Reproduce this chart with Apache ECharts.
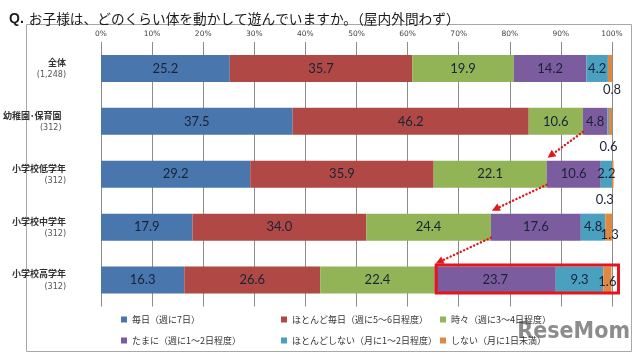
<!DOCTYPE html>
<html><head><meta charset="utf-8">
<script src="https://cdn.jsdelivr.net/npm/echarts/dist/echarts.min.js"></script>
<style>html,body{margin:0;padding:0;background:#fff}#c{width:640px;height:357px}</style>
</head><body><div id="c"></div>
<script>
// ---- data ----
const categories = ['全体', '幼稚園･保育園', '小学校低学年', '小学校中学年', '小学校高学年'];
const sampleSizes = ['(1,248)', '(312)', '(312)', '(312)', '(312)'];
const seriesNames = ['毎日（週に7日）', 'ほとんど毎日（週に5～6日程度）', '時々（週に3～4日程度）',
  'たまに（週に1～2日程度）', 'ほとんどしない（月に1～2日程度）', 'しない（月に1日未満）'];
const everyday       = [25.2, 37.5, 29.2, 17.9, 16.3];
const almostEveryday = [35.7, 46.2, 35.9, 34.0, 26.6];
const sometimes      = [19.9, 10.6, 22.1, 24.4, 22.4];
const occasionally   = [14.2, 4.8, 10.6, 17.6, 23.7];
const rarely         = [4.2, 0.3, 2.2, 4.8, 9.3];
const never          = [0.8, 0.6, 0.3, 1.3, 1.6];
const xTicks = [0, 10, 20, 30, 40, 50, 60, 70, 80, 90, 100];

// ---- styling ----
const colors = ['#4a76ae', '#b04945', '#93b456', '#7b5c9e', '#4aa1bf', '#e0883f'];
const allSeries = [everyday, almostEveryday, sometimes, occasionally, rarely, never];
const labelColor = '#1a2238';
const labelTweaks = {
  '4-1': { show: false },
  '5-0': { offset: [2, 21] },
  '5-1': { offset: [-2, 25] },
  '5-2': { offset: [-8, 26] },
  '5-3': { offset: [1, 8] },
  '5-4': { offset: [0, 2] }
};

const barSeries = allSeries.map((vals, si) => ({
  name: seriesNames[si],
  type: 'bar',
  stack: 'total',
  barWidth: 27,
  clip: false,
  itemStyle: { color: colors[si] },
  label: {
    show: true, position: 'inside', color: labelColor,
    fontFamily: 'Lato', fontSize: 13,
    formatter: p => p.value.toFixed(1)
  },
  data: vals.map((v, ri) => {
    const t = labelTweaks[si + '-' + ri];
    return t ? { value: v, label: t } : v;
  })
}));

const cum3 = categories.map((_, i) => everyday[i] + almostEveryday[i] + sometimes[i]);
const arrowData = [1, 2, 3].map(i => [cum3[i], i, cum3[i + 1], i + 1]);
const boxData = [[cum3[4], 4, 100, 4]];

const arrowSeries = {
  type: 'custom', name: 'arrows', z: 10, silent: true,
  encode: { x: [0, 2], y: [1, 3] },
  data: arrowData,
  renderItem(params, api) {
    const a = api.coord([api.value(0), api.value(1)]);
    const b = api.coord([api.value(2), api.value(3)]);
    const half = 13.5;
    const x1 = a[0], y1 = a[1] + half - 3;
    const x2 = b[0] + 1, y2 = b[1] - half - 3;
    const ang = Math.atan2(y2 - y1, x2 - x1);
    const L = 8, W = 4;
    const bx = x2 - L * Math.cos(ang), by = y2 - L * Math.sin(ang);
    const px = -Math.sin(ang) * W, py = Math.cos(ang) * W;
    return {
      type: 'group',
      children: [
        { type: 'line', shape: { x1, y1, x2: bx, y2: by },
          style: { stroke: '#e2161c', lineWidth: 2.4, lineDash: [0.1, 3.6], lineCap: 'round' } },
        { type: 'polygon', shape: { points: [[x2, y2], [bx + px, by + py], [bx - px, by - py]] },
          style: { fill: '#e2161c' } }
      ]
    };
  }
};

const boxSeries = {
  type: 'custom', name: 'box', z: 11, silent: true,
  encode: { x: [0, 2], y: [1, 3] },
  data: boxData,
  renderItem(params, api) {
    const a = api.coord([api.value(0), api.value(1)]);
    const b = api.coord([api.value(2), api.value(3)]);
    const half = 13.5;
    return {
      type: 'rect',
      shape: { x: a[0] + 1.5, y: a[1] - half - 1.5, width: b[0] - a[0] + 5, height: 2 * half + 1 },
      style: { fill: 'none', stroke: '#e2161c', lineWidth: 3 }
    };
  }
};

const legendPos = [[121, 315], [281, 315], [440, 315], [121, 336], [281, 336], [440, 336]];
const legends = seriesNames.map((n, i) => ({
  data: [n], left: legendPos[i][0], top: legendPos[i][1], padding: 0,
  icon: 'rect', itemWidth: 6, itemHeight: 6, selectedMode: false,
  textStyle: { fontSize: 9, color: '#333', fontFamily: 'Noto Sans CJK JP' }
}));

// category labels: centred two-line blocks whose right edge sits at a common x
const labelAnchorMargin = 35;      // block centre = gridLeft - margin
const gridLeft = 99, blockRight = 91;
const nameFont = 'bold 9px "Noto Sans CJK JP"';
const sizeFont = '8px "DejaVu Sans"';
const mctx = document.createElement('canvas').getContext('2d');
function textW(font, s) { mctx.font = font; return mctx.measureText(s).width; }
const categoryItems = categories.map((c, i) => {
  const w = Math.max(textW(nameFont, c), textW(sizeFont, sampleSizes[i]));
  const shift = (blockRight - w / 2) - (gridLeft - labelAnchorMargin);
  const pad = shift >= 0 ? [0, 0, 0, 2 * shift] : [0, -2 * shift, 0, 0];
  return { value: c, textStyle: { padding: pad } };
});

const chart = echarts.init(document.getElementById('c'), null, { renderer: 'canvas' });
chart.setOption({
  animation: false,
  backgroundColor: '#fff',
  title: {
    left: 4, top: 5,
    text: '{q|Q.} {t|お子様は、どのくらい体を動かして遊んでいますか。（屋内外問わず）}',
    textStyle: {
      fontWeight: 'normal',
      rich: {
        q: { fontSize: 14, fontWeight: 'bold', color: '#1a1a1a', fontFamily: 'Liberation Sans' },
        t: { fontSize: 13.7, fontWeight: 'normal', color: '#1a1a1a', fontFamily: 'Noto Sans CJK JP' }
      }
    }
  },
  legend: legends,
  grid: { left: gridLeft, right: 28, top: 42, bottom: 50.5, containLabel: false },
  xAxis: {
    type: 'value', position: 'top', min: xTicks[0], max: xTicks[xTicks.length - 1], interval: 10,
    axisLine: { show: false }, axisTick: { show: false },
    splitLine: { show: true, lineStyle: { color: '#8c8c8c', width: 1 } },
    axisLabel: { formatter: '{value}%', fontSize: 7.5, color: '#444', margin: 4, fontFamily: 'DejaVu Sans' }
  },
  yAxis: {
    type: 'category', inverse: true, data: categoryItems,
    axisLine: { show: false }, axisTick: { show: false },
    axisLabel: {
      margin: labelAnchorMargin, align: 'center',
      formatter: (v, i) => '{n|' + v + '}\n{s|' + sampleSizes[i] + '}',
      rich: {
        n: { fontSize: 9, fontWeight: 'bold', color: '#333', lineHeight: 13, fontFamily: 'Noto Sans CJK JP' },
        s: { fontSize: 8, color: '#555', lineHeight: 12, fontFamily: 'DejaVu Sans' }
      }
    }
  },
  graphic: [
    { type: 'rect', silent: true, z: -1, shape: { x: 26.5, y: 24.5, width: 605, height: 327 },
      style: { fill: 'none', stroke: '#a8a8a8', lineWidth: 1 } },
    { type: 'text', silent: true, right: 10, top: 321,
      style: { text: 'ReseMom', font: 'bold 23px "DejaVu Sans Condensed"', fill: 'rgba(120,120,120,0.85)' } }
  ],
  series: [...barSeries, arrowSeries, boxSeries]
});
</script>
</body></html>
